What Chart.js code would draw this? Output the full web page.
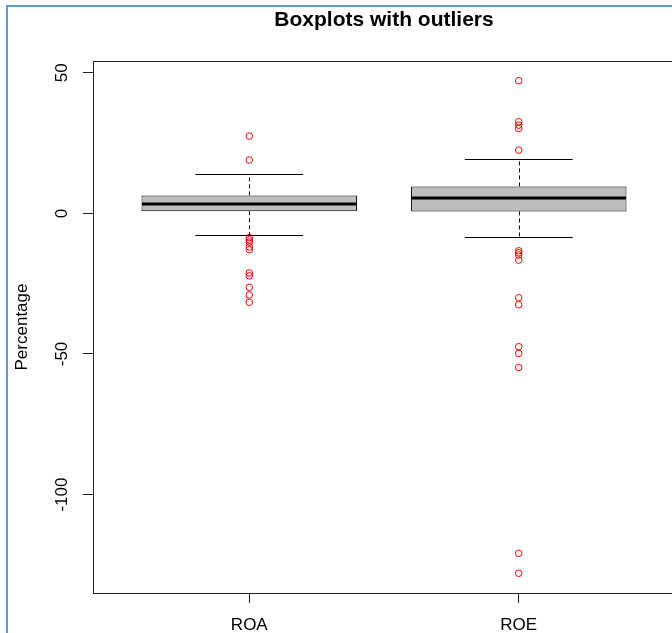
<!DOCTYPE html>
<html>
<head>
<meta charset="utf-8">
<title>Boxplots with outliers</title>
<script src="https://cdn.jsdelivr.net/npm/chart.js@4.4.1/dist/chart.umd.min.js"></script>
<style>
  html, body { margin: 0; padding: 0; background: #fff; overflow: hidden; }
  #wrap { position: relative; width: 672px; height: 633px; overflow: hidden; }
  #frame { position: absolute; left: 6px; top: 5px; width: 800px; height: 800px;
           border-top: 2px solid #5b9bd5; border-left: 2px solid #5b9bd5; }
  canvas { position: absolute; left: 0; top: 0; }
</style>
</head>
<body>
<div id="wrap">
  <div id="frame"></div>
  <canvas id="box" width="768" height="633"></canvas>
</div>
<script>
// five-number summaries
const categories = ['ROA', 'ROE'];
const lowerWhisker = [-7.8, -8.5];
const lowerQuartile = [0.8, 0.7];
const medians = [3.4, 5.4];
const upperQuartile = [6.4, 9.6];
const upperWhisker = [14.1, 19.4];

const roaOutliers = [27.5, 19.0, -8.6, -9.4, -10.2, -11.9, -12.9, -21.2, -22.2, -26.3, -29.0, -31.6];
const roeOutliers = [47.2, 32.6, 31.4, 30.2, 22.5, -13.3, -14.0, -14.8, -16.6, -30.0, -32.5,
                     -47.4, -49.8, -54.8, -120.9, -128.0];

const yTicks = [50, 0, -50, -100];
const chartTitle = 'Boxplots with outliers';

const FONT = "'Liberation Sans', Arial, sans-serif";

// R style axis range: data range plus 4% each side
const allValues = [].concat(lowerWhisker, upperWhisker, roaOutliers, roeOutliers);
const lo = Math.min(...allValues), hi = Math.max(...allValues);
const pad = (hi - lo) * 0.04;

const outlierPoints = roaOutliers.map(v => ({ x: 1, y: v }))
  .concat(roeOutliers.map(v => ({ x: 2, y: v })));

// whiskers, staples, medians, frame, title and rotated y labels
const boxParts = {
  id: 'boxParts',
  afterDatasetsDraw(chart) {
    const { ctx, scales: { x, y } } = chart;
    ctx.save();
    ctx.strokeStyle = '#000';
    categories.forEach((c, i) => {
      const pos = i + 1;
      const cx = Math.round(x.getPixelForValue(pos)) + 0.5;
      ctx.lineWidth = 1;
      ctx.setLineDash([4, 3]);
      ctx.beginPath();
      ctx.moveTo(cx, y.getPixelForValue(upperQuartile[i]));
      ctx.lineTo(cx, y.getPixelForValue(upperWhisker[i]));
      ctx.moveTo(cx, y.getPixelForValue(lowerQuartile[i]));
      ctx.lineTo(cx, y.getPixelForValue(lowerWhisker[i]));
      ctx.stroke();
      ctx.setLineDash([]);

      ctx.beginPath();
      [upperWhisker[i], lowerWhisker[i]].forEach(v => {
        const py = Math.round(y.getPixelForValue(v)) + 0.5;
        ctx.moveTo(x.getPixelForValue(pos - 0.2), py);
        ctx.lineTo(x.getPixelForValue(pos + 0.2), py);
      });
      ctx.stroke();

      ctx.lineWidth = 3;
      ctx.beginPath();
      const my = Math.round(y.getPixelForValue(medians[i]));
      ctx.moveTo(x.getPixelForValue(pos - 0.4) + 0.5, my);
      ctx.lineTo(x.getPixelForValue(pos + 0.4) - 0.5, my);
      ctx.stroke();
    });
    ctx.restore();
  },
  afterDraw(chart) {
    const { ctx, chartArea: a, scales: { y } } = chart;
    ctx.save();
    ctx.strokeStyle = '#222';
    ctx.lineWidth = 1;
    ctx.strokeRect(Math.round(a.left) + 0.5, Math.round(a.top) + 0.5,
      Math.round(a.right - a.left), Math.round(a.bottom - a.top));

    ctx.fillStyle = '#000';
    ctx.textAlign = 'center';
    ctx.textBaseline = 'middle';

    // title centred over the plot region, like R does
    ctx.font = 'bold 21px ' + FONT;
    ctx.fillText(chartTitle, (a.left + a.right) / 2, 20);

    ctx.font = '17px ' + FONT;
    yTicks.forEach(v => {
      ctx.save();
      ctx.translate(a.left - 30.5, y.getPixelForValue(v));
      ctx.rotate(-Math.PI / 2);
      ctx.fillText(String(v), 0, 0);
      ctx.restore();
    });
    ctx.restore();
  }
};

new Chart(document.getElementById('box'), {
  type: 'bar',
  data: {
    datasets: [
      {
        type: 'scatter',
        data: outlierPoints,
        order: 0,
        pointStyle: 'circle',
        pointRadius: 3.3,
        pointBorderWidth: 1,
        pointBorderColor: '#ff0000',
        pointBackgroundColor: 'rgba(0,0,0,0)',
        pointHoverRadius: 3.3
      },
      {
        type: 'bar',
        data: categories.map((c, i) => ({ x: i + 1, y: [lowerQuartile[i], upperQuartile[i]] })),
        order: 1,
        backgroundColor: '#bebebe',
        borderColor: '#000',
        borderWidth: 1,
        borderSkipped: false,
        categoryPercentage: 0.8,
        barPercentage: 1.0
      }
    ]
  },
  options: {
    responsive: false,
    animation: false,
    events: [],
    layout: { padding: { left: 0, right: 93, top: 61, bottom: 0 } },
    plugins: {
      legend: { display: false },
      tooltip: { enabled: false },
      title: { display: false }
    },
    scales: {
      x: {
        type: 'linear',
        min: 0.42,
        max: 2.58,
        offset: false,
        afterBuildTicks: s => { s.ticks = categories.map((c, i) => ({ value: i + 1 })); },
        afterFit: s => { s.height = 40; },
        ticks: {
          autoSkip: false,
          maxRotation: 0,
          padding: 12,
          color: '#000',
          font: { family: FONT, size: 17 },
          callback: (v, i) => categories[i]
        },
        grid: { drawOnChartArea: false, drawTicks: true, tickLength: 10, color: '#222', offset: false },
        border: { display: false }
      },
      y: {
        type: 'linear',
        min: lo - pad,
        max: hi + pad,
        afterBuildTicks: s => { s.ticks = yTicks.map(v => ({ value: v })); },
        afterFit: s => { s.width = 93; },
        ticks: { display: false },
        grid: { drawOnChartArea: false, drawTicks: true, tickLength: 10, color: '#222' },
        border: { display: false },
        title: {
          display: true,
          text: 'Percentage',
          color: '#000',
          font: { family: FONT, size: 17 },
          padding: { top: 11.8, bottom: 0 }
        }
      }
    }
  },
  plugins: [boxParts]
});
</script>
</body>
</html>
